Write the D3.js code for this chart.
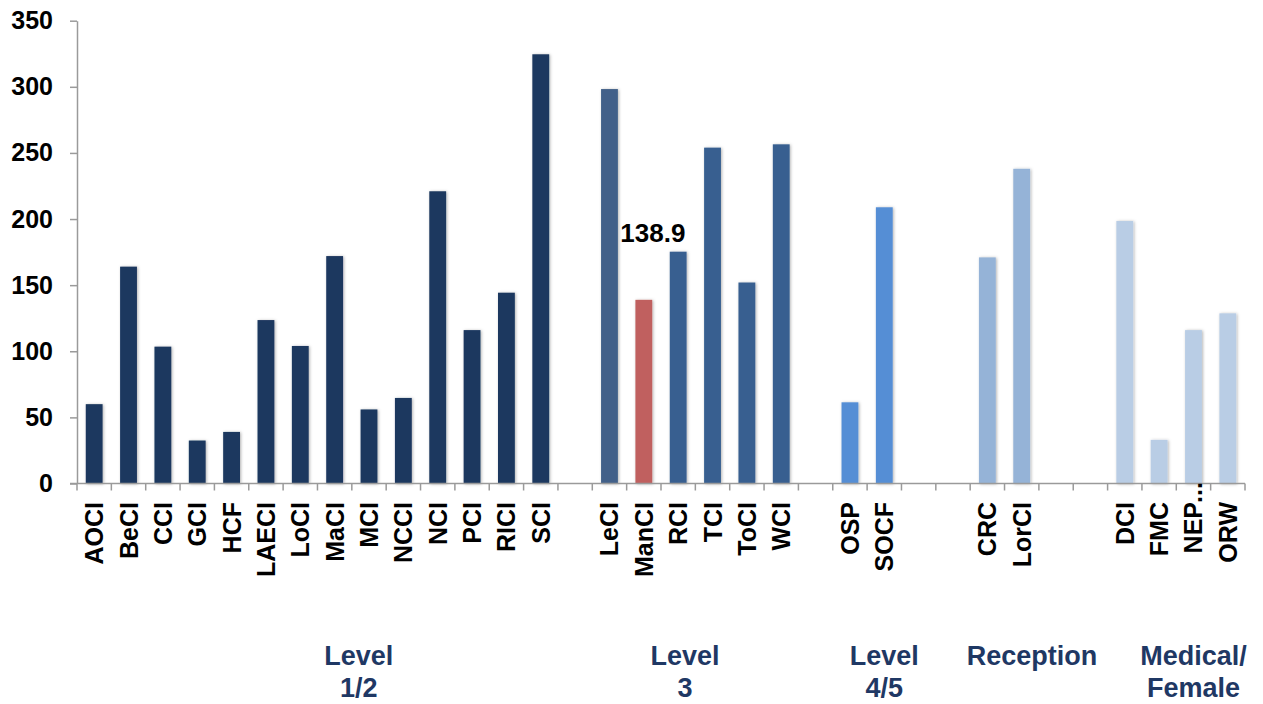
<!DOCTYPE html>
<html>
<head>
<meta charset="utf-8">
<script src="https://cdn.jsdelivr.net/npm/d3@7"></script>
<style>
  html, body { margin: 0; padding: 0; background: #ffffff; }
  svg { display: block; font-family: "Liberation Sans", Arial, sans-serif; }
</style>
</head>
<body>
<svg id="chart" width="1263" height="704"></svg>
<script>
// Establishments along the x axis; empty strings are spacer slots between groups
const categories = ["AOCI","BeCI","CCI","GCI","HCF","LAECI","LoCI","MaCI","MCI","NCCI","NCI","PCI","RICI","SCI","",
                    "LeCI","ManCI","RCI","TCI","ToCI","WCI","",
                    "OSP","SOCF","","",
                    "CRC","LorCI","","",
                    "DCI","FMC","NEP...","ORW"];
const values = [60,164,103.5,32.5,39,123.6,104,172,56,64.7,221,116,144.3,324.6,null,
                298.3,138.9,175.3,254,152,256.5,null,
                61.4,208.9,null,null,
                171,238,null,null,
                198.5,33,116,128.7];
// Group membership of every slot (-1 = spacer)
const groupOf = [0,0,0,0,0,0,0,0,0,0,0,0,0,0,-1,
                 1,1,1,1,1,1,-1,
                 2,2,-1,-1,
                 3,3,-1,-1,
                 4,4,4,4];
const groupNames = ["Level\n1/2","Level\n3","Level\n4/5","Reception","Medical/\nFemale"];
const highlighted = "ManCI";
const yTicks = [0,50,100,150,200,250,300,350];

// Styling
const groupColors = ["#1b375e","#375f90","#558ed5","#95b3d7","#b9cde5"];
const firstOfLevel3Color = "#426189";
const highlightColor = "#c0605e";
const axisColor = "#9a9a9a";
const groupLabelColor = "#1f3864";
// Horizontal anchors of the group captions, in slot units along the axis
const groupLabelSlots = [8.2, 17.7, 23.5, 27.8, 32.5];

const svg = d3.select("#chart");
const plotLeft = 77, plotRight = 1245, plotTop = 20.7, plotBottom = 483.5;

const x = d3.scaleBand().domain(d3.range(categories.length)).range([plotLeft, plotRight]).padding(0);
const y = d3.scaleLinear().domain([0, 350]).range([plotBottom, plotTop]);
const barW = x.bandwidth() * 0.49;

const defs = svg.append("defs");
const f = defs.append("filter").attr("id", "barShadow")
  .attr("x", "-50%").attr("y", "-10%").attr("width", "200%").attr("height", "120%");
f.append("feDropShadow").attr("dx", 1).attr("dy", 0.5).attr("stdDeviation", 1.6)
  .attr("flood-color", "#000").attr("flood-opacity", 0.3);

function barColor(i) {
  if (categories[i] === highlighted) return highlightColor;
  if (categories[i] === "LeCI") return firstOfLevel3Color;
  return groupColors[groupOf[i]];
}

// Bars
const barData = values.map((v, i) => ({ i, v })).filter(d => d.v != null);
svg.append("g").selectAll("rect").data(barData).join("rect")
  .attr("x", d => x(d.i) + (x.bandwidth() - barW) / 2)
  .attr("y", d => y(d.v))
  .attr("width", barW)
  .attr("height", d => y(0) - y(d.v))
  .attr("fill", d => barColor(d.i))
  .attr("filter", "url(#barShadow)");

// Y axis
const yAxis = svg.append("g").attr("transform", `translate(${plotLeft},0)`)
  .call(d3.axisLeft(y).tickValues(yTicks).tickSize(7).tickPadding(17).tickSizeOuter(0));
yAxis.select(".domain").attr("stroke", axisColor).attr("stroke-width", 1.5);
yAxis.selectAll(".tick line").attr("stroke", axisColor).attr("stroke-width", 1.5);
yAxis.selectAll(".tick text")
  .attr("font-size", 25).attr("font-weight", "bold").attr("fill", "#000")
  .attr("font-family", "'Liberation Sans', Arial, sans-serif");

// X axis: line plus tick marks at every slot boundary
const xg = svg.append("g");
xg.append("line").attr("x1", plotLeft - 7).attr("x2", plotRight).attr("y1", y(0)).attr("y2", y(0))
  .attr("stroke", axisColor).attr("stroke-width", 1.5);
const bounds = d3.range(categories.length + 1).map(k => plotLeft + k * x.step());
xg.selectAll("line.tk").data(bounds).join("line").attr("class", "tk")
  .attr("x1", d => d).attr("x2", d => d).attr("y1", y(0)).attr("y2", y(0) + 7)
  .attr("stroke", axisColor).attr("stroke-width", 1.5);

// Category labels, rotated to read upward
const labelTop = 502;
const catG = svg.append("g");
categories.forEach((c, i) => {
  if (!c) return;
  const cx = x(i) + x.bandwidth() / 2;
  const ell = c.endsWith("...");
  const main = ell ? c.slice(0, -3) : c;
  catG.append("text")
    .attr("transform", `translate(${cx},${labelTop}) rotate(-90)`)
    .attr("text-anchor", "end").attr("dy", "0.36em")
    .attr("font-size", 25).attr("font-weight", "bold").attr("fill", "#000")
    .text(main);
  if (ell) {
    catG.append("text")
      .attr("transform", `translate(${cx},${labelTop + 1}) rotate(-90)`)
      .attr("text-anchor", "start").attr("dy", "0.36em")
      .attr("font-size", 25).attr("font-weight", "bold").attr("fill", "#000")
      .text("...");
  }
});

// Value label on the highlighted bar
const hi = categories.indexOf(highlighted);
svg.append("text")
  .attr("x", x(hi) + x.bandwidth() / 2 + 9)
  .attr("y", y(values[hi]) - 58)
  .attr("text-anchor", "middle")
  .attr("font-size", 26).attr("font-weight", "bold").attr("fill", "#000")
  .text(values[hi].toFixed(1));

// Group captions
const gg = svg.append("g");
groupNames.forEach((name, g) => {
  const gx = plotLeft + groupLabelSlots[g] * x.step();
  const t = gg.append("text").attr("text-anchor", "middle")
    .attr("font-size", 27).attr("font-weight", "bold").attr("fill", groupLabelColor);
  name.split("\n").forEach((line, k) => {
    t.append("tspan").attr("x", gx).attr("y", 665 + k * 32).text(line);
  });
});
</script>
</body>
</html>
